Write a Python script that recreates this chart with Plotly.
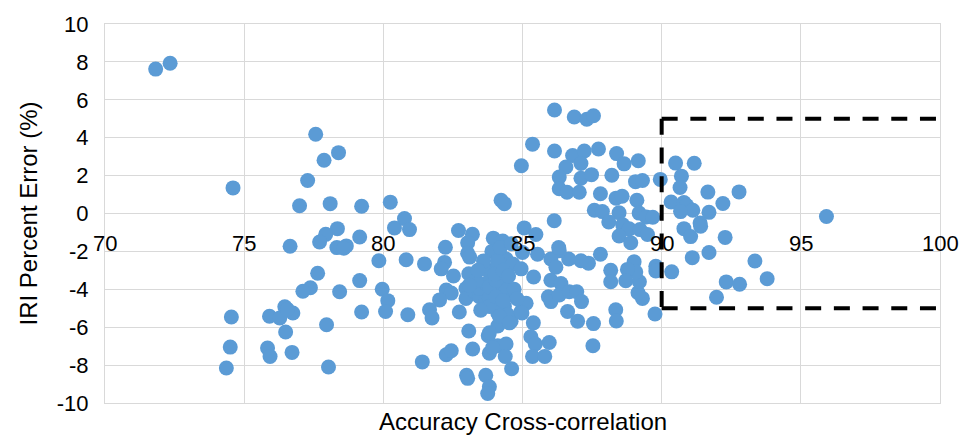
import plotly.graph_objects as go

# Accuracy cross-correlation (%) and IRI percent error (%) for each profile pair
accuracy = [
    71.82, 72.34, 74.60, 77.57, 77.87, 78.39, 77.28, 76.99, 78.09, 79.22,
    80.25, 78.35, 77.93, 77.71, 76.65, 78.33, 78.67, 79.15, 78.58, 79.84,
    77.64, 79.15, 77.38, 77.11, 78.43, 79.96, 80.16, 80.08, 79.22, 76.46,
    75.91, 76.75, 76.28, 74.54, 76.49, 77.96, 74.50, 75.84, 75.93, 76.72,
    74.36, 78.03, 76.55,
    80.40, 80.76, 80.94, 80.82, 82.70, 83.20, 83.03, 82.23, 83.95, 84.29,
    84.23, 84.35, 85.06, 85.48, 86.14, 85.36, 84.96, 86.15, 86.86, 87.31,
    87.55, 86.15, 86.80, 87.22, 87.73, 88.38, 88.65, 89.16, 86.56, 87.10,
    86.32, 87.10, 87.48, 88.21, 89.06, 89.31, 89.95, 90.50, 91.17, 90.71,
    90.66, 86.32, 86.60, 87.04, 87.80, 88.36, 88.58, 89.11, 90.34, 90.80,
    90.90, 91.12, 91.66, 92.78, 91.70, 92.20, 90.68, 91.38, 87.58, 87.87,
    88.47, 89.19, 89.45, 89.68, 88.10, 88.60, 88.83, 89.22, 88.47, 88.89,
    89.49, 95.92, 90.80, 91.40, 91.04, 92.28, 91.70, 91.10, 93.35, 93.79,
    92.32, 92.80, 91.97, 89.79, 89.79, 90.36, 89.76, 89.31, 89.15, 89.20,
    89.01, 89.07, 88.77, 88.71, 88.17, 88.17, 87.80, 87.37, 87.10, 86.66,
    86.32, 86.02, 86.20, 85.54, 85.00, 84.23, 83.03, 83.10, 81.48, 82.20,
    82.08, 82.52, 83.07, 83.75, 84.11, 84.41, 84.65, 84.95, 85.40, 86.02,
    86.38, 85.93, 86.02, 86.32, 86.68, 86.95, 87.12, 86.62, 86.98, 87.55,
    87.53, 88.35, 88.37, 82.26, 82.44, 82.02, 81.66, 81.75, 80.88, 82.73,
    82.97, 82.97, 83.27, 83.45, 83.69, 83.45, 83.69, 83.81, 84.05, 84.35,
    84.41, 84.41, 83.93, 84.35, 84.11, 84.59, 84.47, 84.11, 84.95, 85.13,
    85.39, 85.30, 85.46, 85.96, 85.36, 85.80, 83.07, 83.77, 83.21, 83.81,
    84.11, 84.41, 84.38, 82.26, 82.44, 81.40, 84.61, 82.99, 83.68, 83.81,
    83.75, 83.03, 83.33, 83.09, 83.81, 83.81, 84.05, 84.17, 83.81, 83.93,
    84.05, 84.98, 84.53, 86.30,
    83.90, 84.10, 84.00, 84.30, 84.50, 84.20, 84.60, 83.60, 83.40, 84.70,
    84.80, 83.50, 84.30,
]
iri_error = [
    7.62, 7.93, 1.35, 4.18, 2.81, 3.21, 1.74, 0.41, 0.52, 0.38,
    0.60, -0.80, -1.10, -1.50, -1.73, -1.80, -1.71, -1.24, -1.83, -2.49,
    -3.15, -3.54, -3.92, -4.10, -4.13, -4.00, -4.60, -5.17, -5.20, -4.92,
    -5.42, -5.25, -5.51, -5.46, -6.25, -5.87, -7.05, -7.10, -7.55, -7.33,
    -8.15, -8.10, -5.05,
    -0.76, -0.27, -0.85, -2.44, -0.90, -1.10, -1.54, -1.78, -1.30, -1.45,
    0.70, 0.52, -0.76, -1.11, -0.38, 3.66, 2.52, 5.46, 5.09, 4.97,
    5.16, 3.30, 3.06, 3.30, 3.40, 3.16, 2.62, 2.78, 2.45, 2.64,
    1.92, 1.86, 2.05, 2.02, 1.68, 1.74, 1.80, 2.66, 2.65, 1.97,
    1.37, 1.31, 1.12, 1.12, 1.04, 0.81, 0.91, 0.70, 0.61, 0.58,
    0.42, 0.17, 1.13, 1.14, 0.06, 0.53, 0.10, -0.50, 0.17, 0.10,
    0.04, 0.02, -0.18, -0.20, -0.45, -0.60, -0.81, -0.85, -1.19, -1.54,
    -1.11, -0.16, -0.80, -0.67, -1.22, -1.26, -2.06, -2.33, -2.51, -3.44,
    -3.61, -3.73, -4.42, -2.78, -3.03, -3.08, -5.30, -4.48, -4.18, -3.60,
    -2.55, -3.09, -2.95, -3.55, -3.00, -3.60, -2.15, -2.62, -2.49, -2.40,
    -1.97, -2.40, -2.83, -2.15, -2.06, -2.23, -2.10, -2.30, -2.66, -2.58,
    -2.92, -3.30, -3.18, -3.00, -2.75, -2.40, -2.66, -2.92, -3.35, -3.52,
    -3.70, -4.39, -4.65, -4.30, -4.13, -4.13, -4.65, -5.17, -5.68, -5.81,
    -6.98, -5.08, -5.67, -4.04, -4.20, -4.56, -5.08, -5.51, -5.34, -5.20,
    -3.96, -4.48, -4.13, -4.39, -4.56, -3.96, -3.70, -4.48, -4.04, -3.70,
    -4.30, -4.04, -4.82, -4.91, -5.25, -5.68, -5.34, -5.94, -5.17, -4.74,
    -5.77, -6.50, -6.89, -6.81, -7.54, -7.54, -6.20, -6.45, -7.15, -7.37,
    -6.98, -6.89, -7.55, -7.45, -7.24, -7.83, -8.19, -8.54, -8.54, -9.14,
    -9.50, -8.70, -3.52, -3.78, -3.87, -4.91, -4.39, -5.42, -6.29, -7.07,
    -3.52, -5.25, -5.77, -1.80,
    -2.00, -2.50, -3.20, -3.00, -3.30, -1.80, -1.60, -2.50, -3.00, -4.00,
    -4.50, -5.10, -4.60,
]

# Axis ticks
x_ticks = [70, 75, 80, 85, 90, 95, 100]
y_ticks = [-10, -8, -6, -4, -2, 0, 2, 4, 6, 8, 10]
y_tick_text = ["-10", "-8", "-6", "-4", "-2", "0", "2", "4", "6", "8", "10"]

# Target zone outline: accuracy >= 90 and |error| <= 5
zone_x = [90, 100]
zone_y = [-5, 5]

FONT = "Liberation Sans, Arial, sans-serif"
GRID = "#D9D9D9"
BLUE = "#5B9BD5"

fig = go.Figure()
fig.add_trace(go.Scatter(
    x=accuracy, y=iri_error, mode="markers",
    marker=dict(size=15, color=BLUE, line=dict(width=0)),
    showlegend=False, hoverinfo="x+y",
))

dash_style = dict(color="black", width=4, dash="16px,12.7px")
fig.add_shape(type="line", x0=zone_x[0], y0=zone_y[1], x1=zone_x[1], y1=zone_y[1],
              line=dash_style, layer="above")
fig.add_shape(type="line", x0=zone_x[0], y0=zone_y[1], x1=zone_x[0], y1=zone_y[0],
              line=dash_style, layer="above")
fig.add_shape(type="line", x0=zone_x[0], y0=zone_y[0], x1=zone_x[1], y1=zone_y[0],
              line=dash_style, layer="above")

# x tick labels sit just under the y = 0 line
for v in x_ticks:
    fig.add_annotation(x=v, y=0, xref="x", yref="y", text=str(v),
                       showarrow=False, xanchor="center", yanchor="middle",
                       yshift=-30, font=dict(family=FONT, size=22, color="black"))

fig.add_annotation(text="Accuracy Cross-correlation", xref="paper", yref="paper",
                   x=0.5, y=0, xanchor="center", yanchor="middle", yshift=-18,
                   showarrow=False, font=dict(family=FONT, size=24, color="black"))
fig.add_annotation(text="IRI Percent Error (%)", xref="paper", yref="paper",
                   x=0, y=0.5, xanchor="center", yanchor="middle", xshift=-77,
                   textangle=-90, showarrow=False,
                   font=dict(family=FONT, size=24, color="black"))

fig.update_xaxes(range=[70, 100], tickvals=x_ticks, showticklabels=False,
                 showgrid=True, gridcolor=GRID, gridwidth=1.3,
                 showline=True, linecolor=GRID, linewidth=1.3, mirror=True,
                 zeroline=False, ticks="")
fig.update_yaxes(range=[-10, 10], tickvals=y_ticks, ticktext=y_tick_text,
                 showgrid=True, gridcolor=GRID, gridwidth=1.3,
                 showline=True, linecolor=GRID, linewidth=1.3, mirror=True,
                 zeroline=True, zerolinecolor=GRID, zerolinewidth=1.3,
                 ticks="outside", ticklen=11, tickcolor="rgba(0,0,0,0)",
                 tickfont=dict(family=FONT, size=22, color="black"))

fig.update_layout(
    width=970, height=435,
    margin=dict(l=105, r=30, t=17, b=32),
    paper_bgcolor="white", plot_bgcolor="white",
    font=dict(family=FONT, size=22, color="black"),
)

fig.write_html("out.html")
